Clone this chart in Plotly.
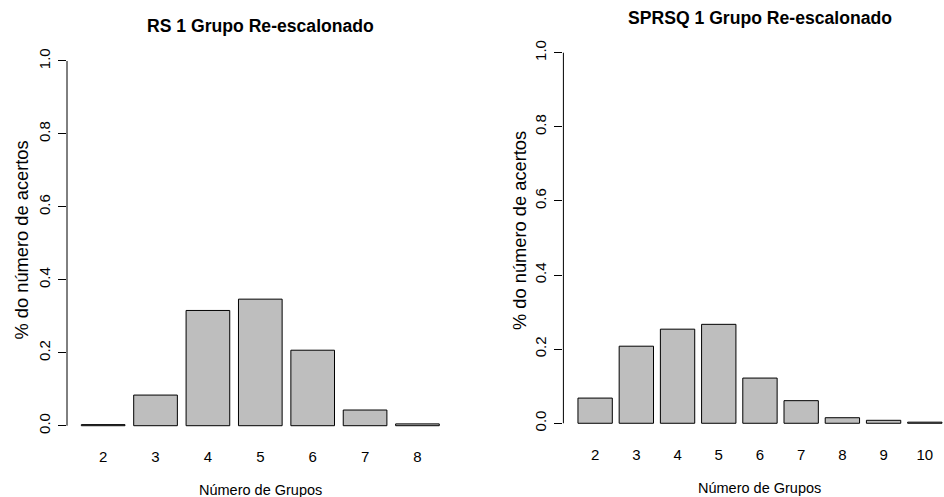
import plotly.graph_objects as go

# Proportion of correct group counts, one rescaled group
rs_groups = ["2", "3", "4", "5", "6", "7", "8"]
rs_values = [0.003, 0.084, 0.316, 0.347, 0.207, 0.043, 0.005]

sprsq_groups = ["2", "3", "4", "5", "6", "7", "8", "9", "10"]
sprsq_values = [0.068, 0.208, 0.254, 0.267, 0.122, 0.061, 0.015, 0.008, 0.003]

y_ticks = [0.0, 0.2, 0.4, 0.6, 0.8, 1.0]
y_tick_text = ["0.0", "0.2", "0.4", "0.6", "0.8", "1.0"]

W, H = 944, 497
FONT = "Liberation Sans, Arial, sans-serif"
BAR_FILL = "#BEBEBE"

fig = go.Figure()

fig.add_trace(go.Bar(
    x=rs_groups, y=rs_values, xaxis="x", yaxis="y",
    marker=dict(color=BAR_FILL, line=dict(color="black", width=1)),
    showlegend=False, hoverinfo="x+y",
))
fig.add_trace(go.Bar(
    x=sprsq_groups, y=sprsq_values, xaxis="x2", yaxis="y2",
    marker=dict(color=BAR_FILL, line=dict(color="black", width=1)),
    showlegend=False, hoverinfo="x+y",
))

# plot regions in pixels (left, right, top, bottom)
left_px = (67.0, 453.6, 46.4, 440.3)
right_px = (563.4, 944.0, 37.9, 438.1)


def xdom(p):
    return [p[0] / W, p[1] / W]


def ydom(p):
    return [1 - p[3] / H, 1 - p[2] / H]


xaxis_common = dict(
    type="category", showgrid=False, zeroline=False, showline=False,
    ticks="", tickfont=dict(family=FONT, size=15, color="black"),
    ticklabelstandoff=6, fixedrange=True,
)
yaxis_common = dict(
    range=[-0.04, 1.04], showgrid=False, zeroline=False, showline=False,
    tickmode="array", tickvals=y_ticks, ticktext=y_tick_text,
    ticks="outside", ticklen=8, tickwidth=1, tickcolor="black",
    tickangle=-90, tickfont=dict(family=FONT, size=15, color="black"),
    ticklabelstandoff=2, fixedrange=True,
)

fig.update_layout(
    width=W, height=H,
    margin=dict(l=0, r=0, t=0, b=0),
    paper_bgcolor="white", plot_bgcolor="white",
    bargap=1 / 6,
    xaxis=dict(domain=xdom(left_px), range=[-0.69, 6.69], anchor="y", **xaxis_common),
    yaxis=dict(domain=ydom(left_px), anchor="x", **yaxis_common),
    xaxis2=dict(domain=xdom(right_px), range=[-0.77, 8.466], anchor="y2", **xaxis_common),
    yaxis2=dict(domain=ydom(right_px), anchor="x2", **yaxis_common),
)

# y axis lines span only the tick range, as in base graphics
for xr, yr in (("x domain", "y"), ("x2 domain", "y2")):
    fig.add_shape(type="line", xref=xr, yref=yr, x0=0, x1=0, y0=0, y1=1,
                  line=dict(color="black", width=1))


def ann(text, xpx, ypx, size, bold=False, angle=0):
    fig.add_annotation(
        text=f"<b>{text}</b>" if bold else text,
        x=xpx / W, y=1 - ypx / H, xref="paper", yref="paper",
        xanchor="center", yanchor="middle", showarrow=False,
        textangle=angle, font=dict(family=FONT, size=size, color="black"),
    )


ann("RS 1 Grupo Re-escalonado", 260.3, 26.3, 17.6, bold=True)
ann("SPRSQ 1 Grupo Re-escalonado", 759.5, 18.5, 17.6, bold=True)
ann("% do número de acertos", 20.5, 240.0, 18.3, angle=-90)
ann("% do número de acertos", 519.0, 231.0, 18.3, angle=-90)
ann("Número de Grupos", 260.3, 490.0, 14.5)
ann("Número de Grupos", 759.5, 488.0, 14.5)

fig.write_html("out.html")
